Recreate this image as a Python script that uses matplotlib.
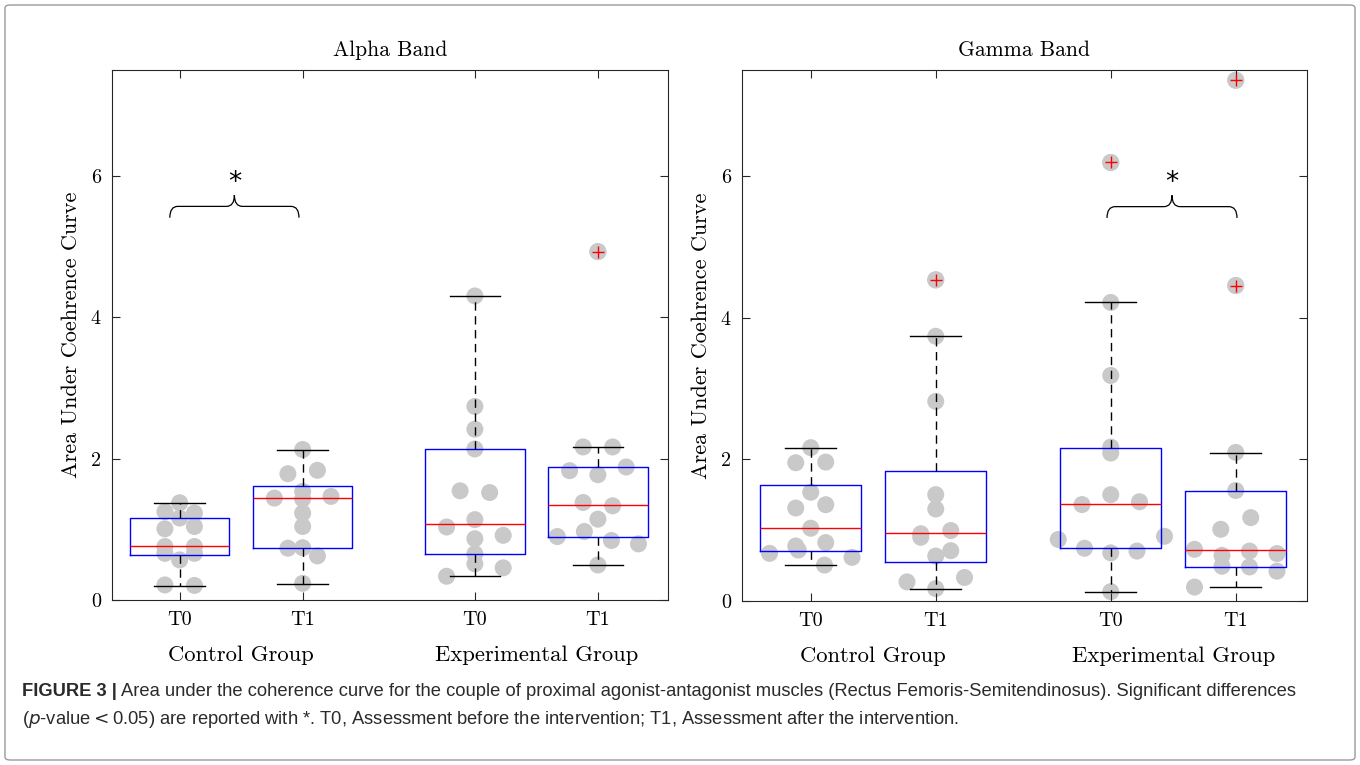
import numpy as np
import matplotlib
matplotlib.use("Agg")
import matplotlib.pyplot as plt
from matplotlib.path import Path
from matplotlib.patches import PathPatch, FancyBboxPatch

plt.rcParams["font.family"] = ["cmr10", "DejaVu Serif"]
plt.rcParams["axes.formatter.use_mathtext"] = True

positions    = [1.0, 2.0, 3.4, 4.4]
time_labels  = ["T0", "T1", "T0", "T1"]
group_labels = ["Control Group", "Experimental Group"]
group_x      = [1.5, 3.9]

# ---- Alpha band: individual subjects (swarm), dx = horizontal swarm offset
alpha_ctrl_t0    = [1.376, 1.25, 1.23, 1.16, 1.007, 1.04, 0.757, 0.757, 0.66, 0.66, 0.567, 0.213, 0.206]
alpha_ctrl_t0_dx = [0, -0.12, 0.12, 0, -0.12, 0.12, -0.12, 0.12, -0.12, 0.12, 0, -0.12, 0.12]
alpha_ctrl_t1    = [2.13, 1.787, 1.835, 1.537, 1.442, 1.43, 1.466, 1.23, 1.04, 0.733, 0.74, 0.624, 0.236]
alpha_ctrl_t1_dx = [0, -0.12, 0.12, 0, -0.23, 0, 0.23, 0, 0, -0.12, 0, 0.12, 0]
alpha_exp_t0     = [4.303, 2.739, 2.417, 2.137, 1.545, 1.521, 1.033, 1.137, 0.867, 0.915, 0.654, 0.512, 0.455, 0.336]
alpha_exp_t0_dx  = [0, 0, 0, 0, -0.12, 0.12, -0.23, 0, 0, 0.23, 0, 0, 0.23, -0.23]
alpha_exp_t1     = [4.93, 2.166, 2.166, 1.83, 1.773, 1.882, 1.38, 1.333, 1.144, 0.898, 0.969, 0.842, 0.794, 0.496]
alpha_exp_t1_dx  = [0, -0.12, 0.12, -0.23, 0, 0.23, -0.12, 0.12, 0, -0.33, -0.11, 0.11, 0.33, 0]

# box statistics as drawn (T0/T1 control, T0/T1 experimental)
alpha_q1       = [0.638, 0.733, 0.645, 0.894]
alpha_med      = [0.766, 1.447, 1.081, 1.348]
alpha_q3       = [1.167, 1.608, 2.137, 1.877]
alpha_whislo   = [0.203, 0.227, 0.336, 0.496]
alpha_whishi   = [1.376, 2.128, 4.303, 2.166]
alpha_outliers = [[], [], [], [4.93]]

# ---- Gamma band
gamma_ctrl_t0    = [2.166, 1.953, 1.962, 1.536, 1.313, 1.360, 1.028, 0.777, 0.720, 0.825, 0.673, 0.616, 0.507]
gamma_ctrl_t0_dx = [0, -0.12, 0.12, 0, -0.12, 0.12, 0, -0.12, -0.10, 0.12, -0.33, 0.33, 0.11]
gamma_ctrl_t1    = [4.536, 3.739, 2.820, 1.502, 1.299, 0.95, 0.90, 0.995, 0.711, 0.635, 0.270, 0.332, 0.175]
gamma_ctrl_t1_dx = [0, 0, 0, 0, 0, -0.12, -0.12, 0.12, 0.12, 0, -0.23, 0.23, 0]
gamma_exp_t0     = [6.194, 4.217, 3.186, 2.174, 2.090, 1.502, 1.362, 1.402, 0.869, 0.914, 0.745, 0.705, 0.680, 0.132]
gamma_exp_t0_dx  = [0, 0, 0, 0, 0, 0, -0.23, 0.23, -0.42, 0.43, -0.21, 0.21, 0, 0]
gamma_exp_t1     = [7.355, 4.456, 2.099, 1.561, 1.178, 1.013, 0.730, 0.645, 0.705, 0.670, 0.491, 0.481, 0.421, 0.197]
gamma_exp_t1_dx  = [0, 0, 0, 0, 0.12, -0.12, -0.33, -0.11, 0.11, 0.33, -0.11, 0.11, 0.33, -0.33]

gamma_q1       = [0.706, 0.545, 0.745, 0.481]
gamma_med      = [1.028, 0.957, 1.377, 0.715]
gamma_q3       = [1.635, 1.834, 2.159, 1.557]
gamma_whislo   = [0.507, 0.175, 0.132, 0.197]
gamma_whishi   = [2.166, 3.739, 4.217, 2.085]
gamma_outliers = [[], [4.536], [6.194], [7.355, 4.456]]

# significance brackets: (left x, right x) per panel
alpha_sig = (0.92, 1.97)
gamma_sig = (3.37, 4.41)

POINT_GREY = "#c9c9c9"
AX_COLOR   = "#262626"
CAP_COLOR  = "#2b2b2b"


def draw_brace(ax, x0, x1, y_end=5.41, y_flat=5.57, y_peak=5.73, r=0.065):
    xc = (x0 + x1) / 2
    verts = [(x0, y_end), (x0, y_flat), (x0 + r, y_flat),
             (xc - r, y_flat), (xc, y_flat), (xc, y_peak),
             (xc, y_flat), (xc + r, y_flat),
             (x1 - r, y_flat), (x1, y_flat), (x1, y_end)]
    codes = [Path.MOVETO, Path.CURVE3, Path.CURVE3,
             Path.LINETO, Path.CURVE3, Path.CURVE3,
             Path.CURVE3, Path.CURVE3,
             Path.LINETO, Path.CURVE3, Path.CURVE3]
    ax.add_patch(PathPatch(Path(verts, codes), fill=False, edgecolor="black",
                           linewidth=0.9, zorder=4))
    ax.text(xc, 5.9, "*", ha="center", va="center", fontsize=19,
            family="DejaVu Sans", zorder=4)


def draw_panel(ax, title, swarms, q1, med, q3, lo, hi, outliers, sig):
    # grey subject dots underneath the boxes
    for pos, (vals, dx) in zip(positions, swarms):
        ax.scatter(np.array(dx) + pos, vals, s=150, color=POINT_GREY,
                   edgecolors="none", zorder=1)
    for pos, out in zip(positions, outliers):
        if out:
            ax.scatter([pos] * len(out), out, s=150, color=POINT_GREY,
                       edgecolors="none", zorder=1)

    stats = []
    for i in range(len(positions)):
        stats.append(dict(med=med[i], q1=q1[i], q3=q3[i],
                          whislo=lo[i], whishi=hi[i], fliers=outliers[i]))
    ax.bxp(stats, positions=positions, widths=0.81, capwidths=0.41,
           showfliers=True, patch_artist=False,
           boxprops=dict(color="blue", linewidth=1.0),
           medianprops=dict(color="red", linewidth=1.0),
           whiskerprops=dict(color="black", linewidth=1.0, linestyle=(0, (6, 4))),
           capprops=dict(color="black", linewidth=1.0),
           flierprops=dict(marker="+", markeredgecolor="red", markersize=9,
                           markeredgewidth=1.0, linestyle="none"),
           zorder=3)

    draw_brace(ax, *sig)

    ax.set_xlim(0.45, 4.97)
    ax.set_ylim(0, 7.5)
    ax.set_yticks([0, 2, 4, 6])
    ax.set_yticklabels(["0", "2", "4", "6"])
    ax.set_xticks(positions)
    ax.set_xticklabels(time_labels)
    ax.tick_params(direction="in", length=6, width=0.8, color=AX_COLOR,
                   top=True, right=True, labelsize=14.5, pad=8)
    for sp in ax.spines.values():
        sp.set_color(AX_COLOR)
        sp.set_linewidth(0.8)
    ax.set_title(title, fontsize=15.5, pad=10)
    ax.set_ylabel("Area Under Coehrence Curve", fontsize=16, labelpad=7)
    for gx, gl in zip(group_x, group_labels):
        ax.text(gx, -0.104, gl, transform=ax.get_xaxis_transform(),
                ha="center", va="center", fontsize=16.3)


fig = plt.figure(figsize=(13.6, 7.65), dpi=100)

ax1 = fig.add_axes([112 / 1360, 165 / 765, 556 / 1360, 530 / 765])
ax2 = fig.add_axes([742 / 1360, 164 / 765, 565 / 1360, 531 / 765])

draw_panel(ax1, "Alpha Band",
           [(alpha_ctrl_t0, alpha_ctrl_t0_dx), (alpha_ctrl_t1, alpha_ctrl_t1_dx),
            (alpha_exp_t0, alpha_exp_t0_dx), (alpha_exp_t1, alpha_exp_t1_dx)],
           alpha_q1, alpha_med, alpha_q3, alpha_whislo, alpha_whishi,
           alpha_outliers, alpha_sig)
draw_panel(ax2, "Gamma Band",
           [(gamma_ctrl_t0, gamma_ctrl_t0_dx), (gamma_ctrl_t1, gamma_ctrl_t1_dx),
            (gamma_exp_t0, gamma_exp_t0_dx), (gamma_exp_t1, gamma_exp_t1_dx)],
           gamma_q1, gamma_med, gamma_q3, gamma_whislo, gamma_whishi,
           gamma_outliers, gamma_sig)

# outer frame around figure + caption
fig.patches.append(FancyBboxPatch((5 / 1360, 5 / 765), 1350 / 1360, 755 / 765,
                                  boxstyle="round,pad=0,rounding_size=0.004",
                                  transform=fig.transFigure, fill=False,
                                  edgecolor="#9a9a9a", linewidth=1.0))

cap_font = ["Liberation Sans", "DejaVu Sans"]
cap_size = 13.2
bold = fig.text(22 / 1360, 1 - 692 / 765, "FIGURE 3 |", family=cap_font,
                fontsize=cap_size, weight="bold", va="center", color=CAP_COLOR)
fig.canvas.draw()
bb = bold.get_window_extent(fig.canvas.get_renderer())
fig.text((bb.x1 + 4) / 1360, 1 - 692 / 765,
         "Area under the coherence curve for the couple of proximal agonist-antagonist "
         "muscles (Rectus Femoris-Semitendinosus). Significant differences",
         family=cap_font, fontsize=cap_size, va="center", color=CAP_COLOR)
fig.text(22 / 1360, 1 - 720 / 765,
         "($p$-value$<$0.05) are reported with *. T0, Assessment before the intervention; "
         "T1, Assessment after the intervention.",
         family=cap_font, fontsize=cap_size, va="center", color=CAP_COLOR)

fig.savefig("out.png", dpi=100)
